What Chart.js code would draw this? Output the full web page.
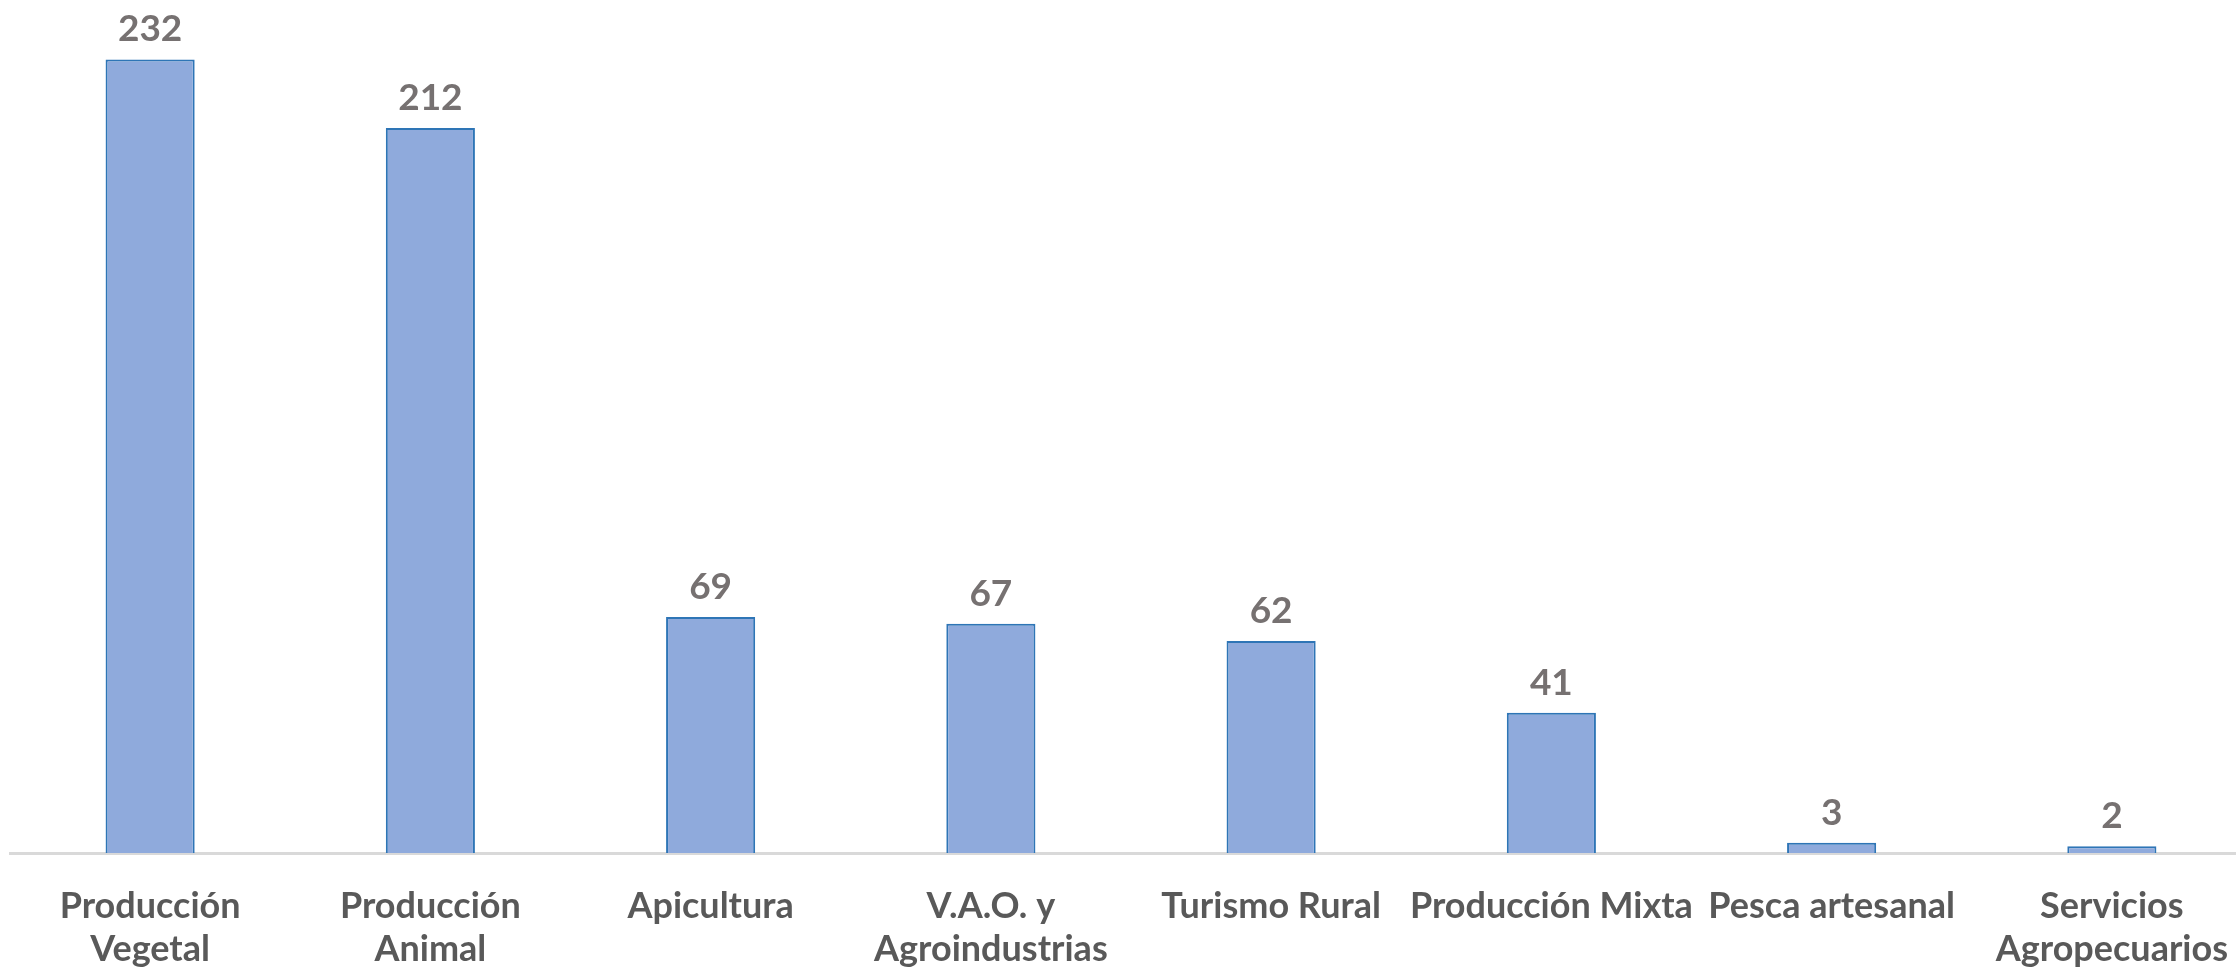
<!DOCTYPE html>
<html>
<head>
<meta charset="utf-8">
<script src="https://cdn.jsdelivr.net/npm/chart.js@4/dist/chart.umd.min.js"></script>
<style>
    html, body { margin: 0; padding: 0; background: #fff; overflow: hidden; }
    #wrap { position: relative; width: 2252px; height: 975px; margin-top: -2px; }
</style>
</head>
<body>
<div id="wrap"><canvas id="canvas"></canvas></div>
<script>
var categories = [
    ['Producción', 'Vegetal'],
    ['Producción', 'Animal'],
    'Apicultura',
    ['V.A.O. y', 'Agroindustrias'],
    'Turismo Rural',
    'Producción Mixta',
    'Pesca artesanal',
    ['Servicios', 'Agropecuarios']
];
var values = [232, 212, 69, 67, 62, 41, 3, 2];

var fontFamily = "Lato, 'Open Sans', sans-serif";

// draws the number above each bar
var valueLabels = {
    id: 'valueLabels',
    afterDatasetsDraw: function(chart) {
        var ctx = chart.ctx;
        var meta = chart.getDatasetMeta(0);
        ctx.save();
        ctx.fillStyle = '#767171';
        ctx.font = 'bold 37px ' + fontFamily;
        ctx.textAlign = 'center';
        ctx.textBaseline = 'middle';
        meta.data.forEach(function(bar, i) {
            ctx.fillText(String(values[i]), bar.x, bar.y - 30);
        });
        ctx.restore();
    }
};

var config = {
    type: 'bar',
    data: {
        labels: categories,
        datasets: [{
            data: values,
            backgroundColor: '#8FAADC',
            borderColor: '#2E75B6',
            borderWidth: 2,
            barPercentage: 0.318,
            categoryPercentage: 1
        }]
    },
    options: {
        responsive: true,
        maintainAspectRatio: false,
        animation: false,
        layout: { padding: { left: 10, right: 0, top: 0, bottom: 0 } },
        plugins: {
            legend: { display: false },
            tooltip: { enabled: false }
        },
        scales: {
            x: {
                grid: { display: false },
                border: { display: true, color: '#D9D9D9', width: 3 },
                ticks: {
                    autoSkip: false,
                    maxRotation: 0,
                    minRotation: 0,
                    padding: 24,
                    color: '#595959',
                    font: { family: fontFamily, size: 36, weight: 'bold', lineHeight: 1.2 }
                },
                afterFit: function(scale) { scale.height = 120; }
            },
            y: {
                display: false,
                min: 0,
                max: 250
            }
        }
    },
    plugins: [valueLabels]
};

window.onload = function() {
    window.myBar = new Chart(document.getElementById('canvas'), config);
};
</script>
</body>
</html>
